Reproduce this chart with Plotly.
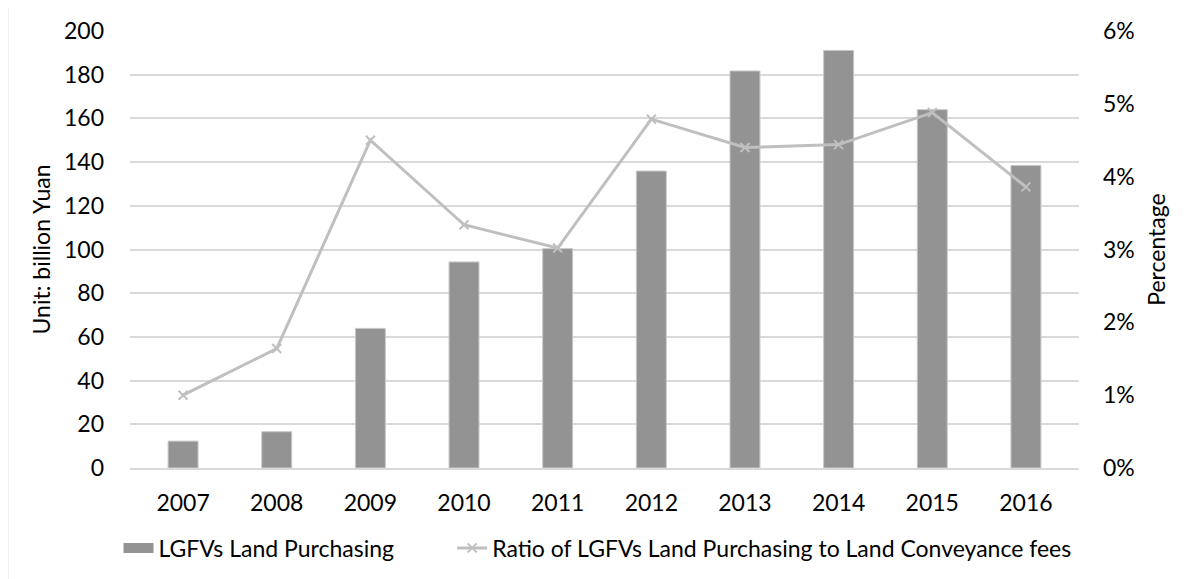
import plotly.graph_objects as go

years = ["2007", "2008", "2009", "2010", "2011", "2012", "2013", "2014", "2015", "2016"]
land_purchasing = [12.3, 16.6, 63.9, 94.3, 100.4, 135.9, 181.7, 191.1, 164.0, 138.5]
ratio_pct = [1.00, 1.64, 4.50, 3.34, 3.02, 4.79, 4.40, 4.44, 4.88, 3.86]
left_ticks = [0, 20, 40, 60, 80, 100, 120, 140, 160, 180, 200]
right_ticks = [0, 1, 2, 3, 4, 5, 6]
right_labels = [f"{v}%" for v in right_ticks]

# the page body has an 8px default margin; compensate so the chart lands on target pixels
OFF = 8
W, H = 1187 - OFF, 579 - OFF
ML, MT = 129.5 - OFF, 30.7 - OFF
PW, PH = 950.0, 437.3
MR, MB = W - ML - PW, H - MT - PH

FONT = "Lato"
fs = 23
BAR = "#939393"
LINE = "#bfbfbf"

def px_x(x):
    return (x - OFF - ML) / PW

def px_y(y):
    return (MT + PH - (y - OFF)) / PH

fig = go.Figure()
fig.add_trace(go.Bar(
    x=years, y=land_purchasing, name="LGFVs Land Purchasing",
    marker=dict(color=BAR, line=dict(color="#c8c8c8", width=1)),
    yaxis="y", showlegend=False,
))
# legend swatch for the bar series (wide rectangle like the original)
fig.add_trace(go.Scatter(
    x=[years[0]], y=[None], name="LGFVs Land Purchasing", mode="lines",
    line=dict(color=BAR, width=14), yaxis="y", legend="legend", showlegend=True,
))
fig.add_trace(go.Scatter(
    x=years, y=ratio_pct, name="Ratio of LGFVs Land Purchasing to Land Conveyance fees",
    mode="lines+markers",
    line=dict(color=LINE, width=3),
    marker=dict(symbol="x-thin-open", size=9, color=LINE, line=dict(color=LINE, width=2)),
    yaxis="y2", legend="legend2",
))

leg_common = dict(orientation="h", xanchor="left", yanchor="middle", y=px_y(548),
                  font=dict(family=FONT, size=fs), bgcolor="rgba(0,0,0,0)",
                  itemwidth=30)

fig.update_layout(
    width=W, height=H,
    margin=dict(l=ML, r=MR, t=MT, b=MB, pad=0, autoexpand=False),
    paper_bgcolor="white", plot_bgcolor="white",
    font=dict(family=FONT, size=fs, color="#000000"),
    bargap=0.68,
    showlegend=True,
    legend=dict(x=px_x(118), **leg_common),
    legend2=dict(x=px_x(452), **leg_common),
    xaxis=dict(
        type="category", showgrid=False, showline=True, linecolor="#d9d9d9", linewidth=1.5,
        ticks="", ticklabelstandoff=14, tickfont=dict(family=FONT, size=fs),
        zeroline=False, automargin=False,
    ),
    yaxis=dict(
        range=[0, 200], tickvals=left_ticks, showgrid=True, gridcolor="#d9d9d9", gridwidth=1.5,
        zeroline=False, showline=False, ticks="", ticklabelstandoff=25,
        tickfont=dict(family=FONT, size=fs), automargin=False,
        title=dict(text="Unit: billion Yuan", font=dict(family=FONT, size=fs), standoff=6),
    ),
    yaxis2=dict(
        range=[0, 6], tickvals=right_ticks, ticktext=right_labels, overlaying="y", side="right",
        showgrid=False, zeroline=False, showline=False, ticks="", ticklabelstandoff=23,
        tickfont=dict(family=FONT, size=fs), automargin=False,
        title=dict(text="Percentage", font=dict(family=FONT, size=fs), standoff=15),
    ),
    shapes=[dict(
        type="rect", xref="paper", yref="paper",
        x0=px_x(7), x1=px_x(1187 + 20),
        y0=px_y(579 + 20), y1=px_y(7),
        line=dict(color="#d9d9d9", width=1.5), fillcolor="rgba(0,0,0,0)", layer="below",
    )],
)

fig.write_html("out.html")
